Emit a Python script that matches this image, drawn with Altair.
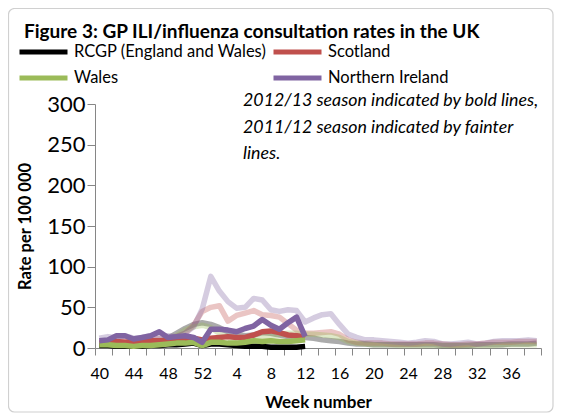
import json
import altair as alt
import pandas as pd

# ---------------- data ----------------
weeks = list(range(40, 53)) + list(range(1, 40))          # season week order
series_names = ["RCGP (England and Wales)", "Scotland", "Wales", "Northern Ireland"]
series_colors = ["#000000", "#C0504D", "#9BBB59", "#8064A2"]

# 2012/13 season (bold lines), weeks 40 .. 12
rcgp_1213 = [3, 3, 2, 2, 2, 2, 3, 3, 4, 4, 5, 6, 3, 5, 5, 4, 3, 2, 2, 2, 1, 1, 1, 1, 2]
scot_1213 = [6, 7, 8, 7, 8, 9, 9, 9, 9, 10, 11, 12, 10, 12, 13, 14, 13, 13, 16, 20, 21, 19, 16, 15, 13]
wales_1213 = [4, 4, 3, 3, 2, 3, 3, 4, 5, 6, 6, 7, 3, 7, 7, 6, 6, 7, 9, 8, 9, 8, 8, 9, 10]
ni_1213 = [9, 10, 15, 15, 11, 13, 15, 20, 13, 14, 15, 13, 7, 23, 23, 22, 20, 24, 27, 35, 28, 23, 31, 38, 14]

# 2011/12 season (fainter lines), weeks 40 .. 39
rcgp_1112 = [6, 6, 5, 5, 5, 6, 7, 8, 12, 18, 24, 29, 31,
             29, 25, 20, 17, 15, 16, 19, 18, 16, 14, 15, 13,
             12, 10, 9, 8, 6, 5, 5, 4, 4, 4, 4, 4, 4, 4, 4, 3, 3, 3, 3, 4, 4, 4, 4, 5, 5, 5, 6]
scot_1112 = [8, 9, 8, 9, 10, 11, 12, 11, 12, 14, 18, 28, 45,
             50, 52, 33, 40, 43, 46, 41, 40, 38, 30, 22, 18,
             18, 19, 20, 17, 10, 7, 6, 6, 6, 5, 5, 5, 5, 6, 6, 5, 4, 4, 5, 5, 6, 7, 7, 7, 8, 8, 8]
wales_1112 = [4, 4, 3, 3, 3, 4, 5, 6, 9, 15, 22, 26, 28,
              25, 18, 13, 12, 12, 14, 14, 14, 17, 18, 18, 17,
              17, 16, 15, 13, 8, 6, 5, 4, 4, 4, 3, 3, 3, 3, 3, 3, 3, 3, 3, 3, 3, 3, 4, 4, 4, 4, 4]
ni_1112 = [12, 14, 13, 15, 12, 13, 15, 14, 15, 14, 18, 26, 48,
           88, 70, 57, 49, 50, 61, 59, 47, 45, 47, 46, 32,
           37, 41, 42, 29, 17, 13, 10, 10, 9, 8, 7, 6, 7, 9, 8, 5, 5, 6, 7, 5, 6, 8, 9, 9, 9, 10, 9]

y_ticks = [0, 50, 100, 150, 200, 250, 300]
title_text = "Figure 3: GP ILI/influenza consultation rates in the UK"
annotation_lines = ["2012/13 season indicated by bold lines,",
                    "2011/12 season indicated by fainter",
                    "lines."]

# ---------------- tables ----------------
rows = []
for season, lists in [("2011/12", [rcgp_1112, scot_1112, wales_1112, ni_1112]),
                      ("2012/13", [rcgp_1213, scot_1213, wales_1213, ni_1213])]:
    for name, vals in zip(series_names, lists):
        for i, v in enumerate(vals):
            rows.append({"season": season, "series": name, "idx": i,
                         "week": weeks[i], "rate": v})
df = pd.DataFrame(rows)
one = pd.DataFrame({"k": [0]})

FONT = "Lato"
AX = "#868686"
n = len(weeks)
tick_vals = [k - 0.5 for k in range(0, n + 1, 2)]
week_labels = json.dumps([str(w) for w in weeks])
label_expr = f"(datum.value + 0.5) % 4 == 0 ? {week_labels}[datum.value + 0.5] : ''"

x_enc = alt.X("idx:Q",
              scale=alt.Scale(domain=[-0.5, n - 0.5], nice=False, zero=False),
              axis=alt.Axis(values=tick_vals, labelExpr=label_expr, labelOffset=4.3,
                            labelOverlap=False, labelFlush=False, labelBound=False,
                            grid=False, tickSize=7,
                            domainColor=AX, tickColor=AX, labelFontSize=16,
                            labelFont=FONT, labelColor="#000000", labelPadding=10,
                            title="Week number", titleFont=FONT, titleFontSize=17,
                            titleFontWeight="bold", titleColor="#000000",
                            titlePadding=13))
y_enc = alt.Y("rate:Q",
              scale=alt.Scale(domain=[0, 300], nice=False),
              axis=alt.Axis(values=y_ticks, grid=False, tickSize=8,
                            domainColor=AX, tickColor=AX, labelFontSize=22,
                            labelFont=FONT, labelColor="#000000", labelPadding=2,
                            title="Rate per 100 000", titleFont=FONT, titleFontSize=16.5,
                            titleFontWeight="bold", titleColor="#000000",
                            titlePadding=13))
color_enc = alt.Color("series:N",
                      scale=alt.Scale(domain=series_names, range=series_colors),
                      legend=alt.Legend(orient="none", legendX=-78, legendY=-65,
                                        direction="horizontal", columns=2,
                                        title=None, symbolType="stroke",
                                        symbolSize=2304, symbolStrokeWidth=5,
                                        symbolOpacity=1, clipHeight=26,
                                        labelFont=FONT, labelFontSize=16.5,
                                        labelLimit=0,
                                        labelColor="#000000", labelOffset=4,
                                        columnPadding=4, rowPadding=0, padding=0))

base = alt.Chart(df).encode(x=x_enc, y=y_enc, color=color_enc)

faint = base.transform_filter(alt.datum.season == "2011/12").mark_line(
    strokeWidth=5.5, opacity=0.33, strokeJoin="round")
bold = base.transform_filter(alt.datum.season == "2012/13").mark_line(
    strokeWidth=5.5, strokeJoin="round")

border = alt.Chart(one).mark_rect(fill=None, stroke="#d0d0d0", strokeWidth=1.2,
                                  cornerRadius=6).encode(
    x=alt.value(-86.5), x2=alt.value(458), y=alt.value(-95.5), y2=alt.value(308))

note = alt.Chart(one).mark_text(align="left", baseline="top", font=FONT,
                                fontSize=17.8, fontStyle="italic", lineHeight=26.5,
                                color="#000000").encode(
    x=alt.value(148), y=alt.value(-12), text=alt.value(annotation_lines))

chart = alt.layer(border, faint, bold, note).properties(
    width=446, height=244,
    autosize=alt.AutoSizeParams(type="none"),
    padding={"left": 87, "top": 96, "right": 14, "bottom": 66},
    title=alt.TitleParams(title_text, anchor="start", frame="group", font=FONT,
                          fontSize=19, fontWeight="bold", color="#000000",
                          baseline="alphabetic", dx=-71, dy=49, offset=0),
).configure_view(stroke=None)

chart.save("out.html", embed_options={"renderer": "svg", "actions": False})
